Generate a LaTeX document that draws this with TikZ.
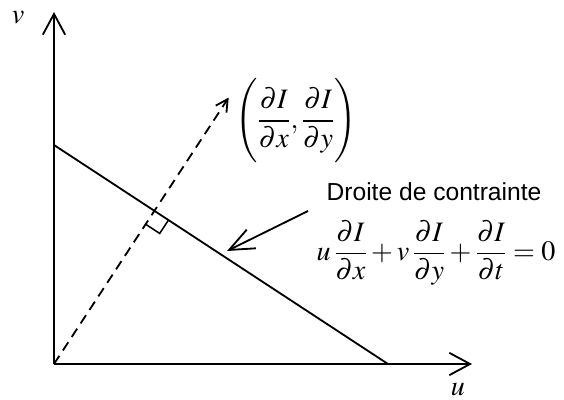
\documentclass[tikz,border=0pt]{standalone}
\usepackage{amsmath}
\usepackage{mathptmx}
\usepackage{fontspec}
\setmainfont{Liberation Serif}
\setsansfont{Liberation Sans}
\usetikzlibrary{arrows.meta,calc}

\begin{document}
\begin{tikzpicture}[x=0.025cm, y=-0.025cm,
    axis/.style={line width=1.3pt, -{Straight Barb[length=0.52cm, width=0.56cm, line width=1.3pt]}},
    pointer/.style={line width=1.3pt, -{Straight Barb[length=0.62cm, width=0.52cm, line width=1.3pt]}},
    gradline/.style={line width=1.3pt, dash pattern=on 7pt off 4.5pt, -{Straight Barb[length=0.3cm, width=0.32cm, line width=1.3pt]}},
    mathlabel/.style={font=\fontsize{20}{24}\selectfont, inner sep=0pt}]
    \useasboundingbox (0,0) rectangle (564,400);

    % axes
    \coordinate (O) at (54,364);
    \coordinate (uend) at (472,364);
    \coordinate (vend) at (54,12);
    \draw[axis] (O) -- (uend);
    \draw[axis] (O) -- (vend);
    \node[mathlabel] (ulabel) at (458,390) {$u$};
    \node[mathlabel] (vlabel) at (18,18) {$v$};

    % constraint line
    \coordinate (A) at (54,145);
    \coordinate (B) at (388,364);
    \draw[line width=1.3pt] (A) -- (B);

    % gradient, perpendicular to the line
    \coordinate (P) at ($(A)!(O)!(B)$);
    \coordinate (G) at ($(O)!1.74!(P)$);
    \draw[gradline] (O) -- (G);

    % right angle
    \coordinate (ra) at ($(P)!0.42cm!(B)$);
    \coordinate (rb) at ($(P)!0.40cm!(O)$);
    \draw[line width=1.1pt] (ra) -- ($(ra)+(rb)-(P)$) -- (rb);

    % labels
    \node[mathlabel] (grad) at (296,121)
        {$\Biggl(\dfrac{\partial I}{\partial x},\dfrac{\partial I}{\partial y}\Biggr)$};
    \node[font=\sffamily\fontsize{17.5}{21}\selectfont, inner sep=0pt, anchor=base]
        (droite) at (434,200) {Droite de contrainte};
    \node[mathlabel] (eqn) at (436,253)
        {$u\,\dfrac{\partial I}{\partial x}+v\,\dfrac{\partial I}{\partial y}+\dfrac{\partial I}{\partial t}=0$};

    \coordinate (ptail) at (308,211);
    \coordinate (ptip) at (227,251);
    \draw[pointer] (ptail) -- (ptip);
\end{tikzpicture}
\end{document}
